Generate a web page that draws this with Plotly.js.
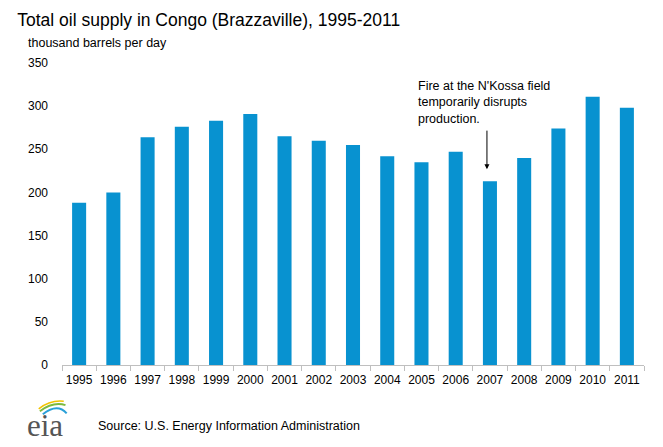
<!DOCTYPE html>
<html>
<head>
<meta charset="utf-8">
<script src="https://cdn.plot.ly/plotly-3.0.1.min.js"></script>
<style>html,body{margin:0;padding:0;background:#fff;}#chart{width:663px;height:447px;}</style>
</head>
<body>
<div id="chart"></div>
<script>
var years = ["1995","1996","1997","1998","1999","2000","2001","2002","2003","2004","2005","2006","2007","2008","2009","2010","2011"];
var supply = [188, 200, 264, 276, 283, 291, 265, 260, 255, 242, 235, 247, 213, 240, 274, 311, 298];
var yTicks = [0, 50, 100, 150, 200, 250, 300, 350];
var noteYear = "2007";

var font = "Arial, 'Liberation Sans', sans-serif";
var noteIdx = years.indexOf(noteYear);

var trace = {
  type: 'bar',
  x: years,
  y: supply,
  marker: {color: '#0892d0'},
  hoverinfo: 'x+y'
};

var layout = {
  width: 663, height: 447,
  margin: {l: 62, r: 19, t: 63, b: 82},
  paper_bgcolor: '#fff', plot_bgcolor: '#fff',
  showlegend: false,
  bargap: 0.59,
  font: {family: font, color: '#000', size: 12},
  title: {text: 'Total oil supply in Congo (Brazzaville), 1995-2011', x: 0.026, xanchor: 'left', y: 0.955, yanchor: 'middle', font: {family: font, size: 17.5, color: '#000'}},
  xaxis: {
    type: 'category',
    range: [-0.5, years.length - 0.5],
    showgrid: false, zeroline: false,
    showline: true, linecolor: '#bfbfbf', linewidth: 1,
    ticks: 'outside', tickson: 'boundaries', ticklen: 5, tickcolor: '#bfbfbf',
    tickangle: 0, automargin: false, ticklabelstandoff: 4,
    tickfont: {family: font, size: 12, color: '#000'},
    fixedrange: true
  },
  yaxis: {
    range: [0, 350],
    tickvals: yTicks,
    ticktext: yTicks.map(String),
    showgrid: false, zeroline: false, showline: false,
    ticks: '', ticklabelstandoff: 13,
    tickfont: {family: font, size: 12, color: '#000'},
    fixedrange: true
  },
  annotations: [
    {xref: 'paper', yref: 'paper', x: -0.061, y: 1.066, xanchor: 'left', yanchor: 'middle', showarrow: false,
     text: 'thousand barrels per day', font: {family: font, size: 12.5, color: '#000'}},
    {xref: 'x', yref: 'y', x: noteIdx, y: 227, ax: 0, ay: -40, axref: 'pixel', ayref: 'pixel', xshift: -3,
     showarrow: true, arrowhead: 2, arrowsize: 1, arrowwidth: 1, arrowcolor: '#000', text: ''},
    {xref: 'x', yref: 'y', x: noteIdx, y: 275, xanchor: 'left', yanchor: 'bottom', xshift: -74, showarrow: false, align: 'left',
     text: "Fire at the N'Kossa field<br>temporarily disrupts<br>production.", font: {family: font, size: 12.5, color: '#000'}},
    {xref: 'paper', yref: 'paper', x: 0.058, y: -0.202, xanchor: 'left', yanchor: 'middle', showarrow: false,
     text: 'Source: U.S. Energy Information Administration', font: {family: font, size: 12.5, color: '#000'}},
    {xref: 'paper', yref: 'paper', x: -0.064, y: -0.2, xanchor: 'left', yanchor: 'middle', showarrow: false,
     text: 'eia', font: {family: "'Liberation Serif', 'DejaVu Serif', serif", size: 31, color: '#555555'}}
  ],
  shapes: [
    {type: 'path', xref: 'paper', yref: 'paper', path: 'M -0.04 -0.145 Q -0.02 -0.115 0.003 -0.12', line: {color: '#f2c300', width: 1.5}},
    {type: 'path', xref: 'paper', yref: 'paper', path: 'M -0.038 -0.153 Q -0.015 -0.12 0.006 -0.133', line: {color: '#7cb93e', width: 2}},
    {type: 'path', xref: 'paper', yref: 'paper', path: 'M -0.033 -0.163 Q -0.008 -0.125 0.008 -0.16', line: {color: '#2aa0d8', width: 2}}
  ]
};

Plotly.newPlot('chart', [trace], layout, {displayModeBar: false, staticPlot: true});
</script>
</body>
</html>
